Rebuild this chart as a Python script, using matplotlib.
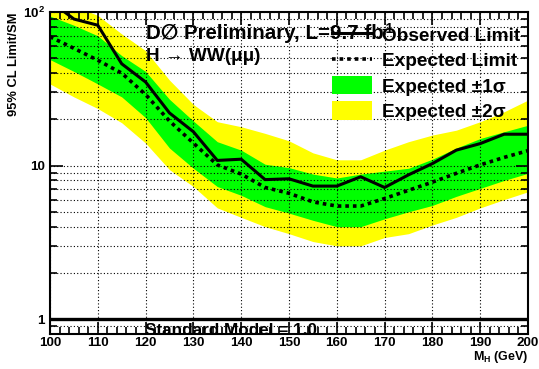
import matplotlib
matplotlib.use("Agg")
from matplotlib import pyplot as plt
from matplotlib.lines import Line2D
from matplotlib.patches import Patch
import matplotlib.ticker as ticker
import numpy as np

plt.rcParams['font.family'] = ['Liberation Sans', 'DejaVu Sans']
plt.rcParams['font.weight'] = 'bold'
plt.rcParams['mathtext.fontset'] = 'custom'
plt.rcParams['mathtext.rm'] = 'Liberation Sans:bold'
plt.rcParams['mathtext.it'] = 'Liberation Sans:bold'
plt.rcParams['mathtext.bf'] = 'Liberation Sans:bold'

# Higgs mass points (GeV) and limits / SM
mass = [100, 105, 110, 115, 120, 125, 130, 135, 140, 145, 150,
        155, 160, 165, 170, 175, 180, 185, 190, 195, 200]
observed = [118, 90, 82, 46, 35, 22, 16.6, 10.8, 11.0, 8.1, 8.2,
            7.35, 7.35, 8.45, 7.2, 8.7, 10.3, 12.6, 13.9, 16.0, 16.0]
expected = [69, 58, 48.5, 40, 29, 19.5, 14, 10.1, 8.8, 7.2, 6.6,
            5.8, 5.45, 5.45, 6.1, 6.9, 7.8, 8.9, 10.1, 11.3, 12.5]
plus1 = [94, 82, 70, 52, 41, 27, 19.5, 14.3, 12.6, 10.2, 9.7,
         8.8, 8.3, 8.8, 9.2, 9.6, 11.0, 13.0, 15.0, 16.6, 18.3]
minus1 = [49, 41, 34, 28, 20.5, 13, 9.6, 7.3, 6.4, 5.4, 4.9,
          4.4, 4.0, 4.0, 4.5, 5.0, 5.5, 6.3, 7.1, 8.0, 8.9]
plus2 = [125, 110, 95, 72, 56, 36, 25, 19.3, 17.9, 16.2, 14.5,
         12.1, 10.9, 10.9, 12.6, 14.3, 15.8, 17.0, 19.3, 22.4, 26.7]
minus2 = [34, 28, 23.5, 19, 14, 9.4, 7.3, 5.3, 4.6, 4.0, 3.6,
          3.2, 3.0, 3.0, 3.4, 3.6, 4.1, 4.6, 5.3, 6.0, 6.75]
sm_level = 1.0

fig = plt.figure(figsize=(5.39, 3.69), dpi=100)
ax = fig.add_axes([50/539, 35/369, 478/539, 322/369])

ax.fill_between(mass, minus2, plus2, color='#ffff00', lw=0, zorder=1)
ax.fill_between(mass, minus1, plus1, color='#00ff00', lw=0, zorder=1.1)
ax.plot(mass, expected, color='k', lw=2.6, ls=(0, (1, 1.1)), zorder=3)
ax.plot(mass, observed, color='k', lw=2.2, zorder=3)
ax.axhline(sm_level, color='k', lw=2.4, zorder=3)

ax.set_yscale('log')
ax.set_xlim(100, 200)
ax.set_ylim(0.8, 100)

ax.xaxis.set_major_locator(ticker.MultipleLocator(10))
ax.xaxis.set_minor_locator(ticker.MultipleLocator(2))
ax.yaxis.set_major_locator(ticker.FixedLocator([1, 10, 100]))
ax.yaxis.set_major_formatter(ticker.FixedFormatter(['1', '10', '10$^2$']))
ax.yaxis.set_minor_locator(ticker.LogLocator(base=10, subs=np.arange(2, 10)))
ax.yaxis.set_minor_formatter(ticker.NullFormatter())

ax.set_axisbelow(False)
ax.grid(True, which='major', axis='x', color='k', ls=(0, (1, 2)), lw=0.8)
ax.grid(True, which='both', axis='y', color='k', ls=(0, (1, 2)), lw=0.8)

ax.tick_params(which='both', direction='in', top=True, right=True, width=1.2)
ax.tick_params(which='major', length=9, labelsize=9.7)
ax.tick_params(which='minor', length=5)
ax.tick_params(axis='x', which='major', pad=2.2)
ax.tick_params(axis='y', which='major', pad=3.6)
for s in ax.spines.values():
    s.set_linewidth(1.5)

fig.text(14/539, 1 - 13/369, '95% CL Limit/SM', fontsize=9.3, fontweight='bold',
         rotation=90, ha='center', va='top')
fig.text(528/539, 1 - 349/369, 'M$_{H}$ (GeV)', fontsize=9, fontweight='bold',
         ha='right', va='top')

title = ax.text(0.2, 0.917, 'D\u2205 Preliminary, L=9.7 fb', fontsize=14.8,
                fontweight='bold', transform=ax.transAxes, ha='left',
                va='baseline', zorder=4)
ax.annotate('-1', xy=(1, 1), xycoords=title, xytext=(-1, 1.5),
            textcoords='offset points', fontsize=10, fontweight='bold',
            ha='left', va='top', zorder=6)
ax.text(0.2, 0.847, 'H \u2192 WW(\u03bc\u03bc)', fontsize=13.6, fontweight='bold',
        transform=ax.transAxes, ha='left', va='baseline', zorder=4)
ax.text(0.199, -0.003, 'Standard Model = 1.0', fontsize=12.3, fontweight='bold',
        transform=ax.transAxes, ha='left', va='baseline', zorder=4)

handles = [Line2D([], [], color='k', lw=2.2),
           Line2D([], [], color='k', lw=2.6, ls=(0, (1, 1.1))),
           Patch(facecolor='#00ff00', edgecolor='none'),
           Patch(facecolor='#ffff00', edgecolor='none')]
labels = ['Observed Limit', 'Expected Limit',
          'Expected \u00b11\u03c3', 'Expected \u00b12\u03c3']
leg = ax.legend(handles, labels, loc='upper left', bbox_to_anchor=(0.589, 0.958),
                frameon=False, fontsize=13.7, handlelength=2.1, handleheight=1.1,
                handletextpad=0.53, labelspacing=0.3, borderpad=0, borderaxespad=0)
leg.set_zorder(5)

fig.savefig('out.png', dpi=100)
